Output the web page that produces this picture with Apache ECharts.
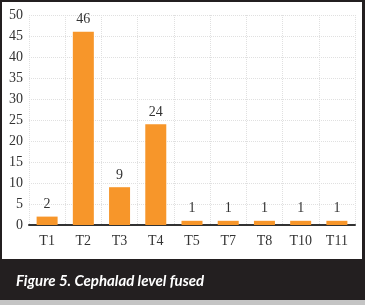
<!DOCTYPE html>
<html><head><meta charset="utf-8">
<script src="https://cdn.jsdelivr.net/npm/echarts@6/dist/echarts.min.js"></script>
<style>html,body{margin:0;padding:0;background:#231f20;}#c{width:365px;height:305px;}</style>
</head><body><div id="c"></div>
<script>
var categories = ['T1','T2','T3','T4','T5','T7','T8','T10','T11'];
var counts = [2,46,9,24,1,1,1,1,1];
var yMin = 0, yMax = 50, yStep = 5;
var captionText = 'Figure 5. Cephalad level fused';

var serif = '"Liberation Serif", "DejaVu Serif", serif';
var chart = echarts.init(document.getElementById('c'), null, {renderer:'canvas'});
chart.setOption({
  backgroundColor: '#231f20',
  animation: false,
  graphic: [
    {type:'rect', z:-10, silent:true, shape:{x:2,y:2,width:360,height:257}, style:{fill:'#ffffff'}},
    {type:'rect', z:-10, silent:true, shape:{x:0,y:300,width:365,height:5}, style:{fill:'#c4c4c4'}},
    {type:'text', left:16, top:274, style:{text:captionText, fill:'#ffffff', font:'italic bold 15px Lato, "Open Sans", sans-serif'}}
  ],
  grid: {left:29, right:10, top:15, bottom:80, containLabel:false},
  xAxis: {
    type:'category', data:categories,
    axisLine:{show:true, lineStyle:{color:'#333333', width:2}},
    axisTick:{show:false},
    axisLabel:{color:'#333333', fontFamily:serif, fontSize:14, margin:9},
    splitLine:{show:true, lineStyle:{color:'#e0e0e0', type:'dotted', width:1}}
  },
  yAxis: {
    type:'value', min:yMin, max:yMax, interval:yStep,
    axisLine:{show:false}, axisTick:{show:false},
    axisLabel:{color:'#333333', fontFamily:serif, fontSize:14, margin:6},
    splitLine:{show:true, lineStyle:{color:'#e0e0e0', type:'dotted', width:1}}
  },
  series: [{
    type:'bar', data:counts, barWidth:21,
    itemStyle:{color:'#f7962a'},
    label:{show:true, position:'top', distance:5, color:'#333333', fontFamily:serif, fontSize:14}
  }]
});
</script></body></html>
